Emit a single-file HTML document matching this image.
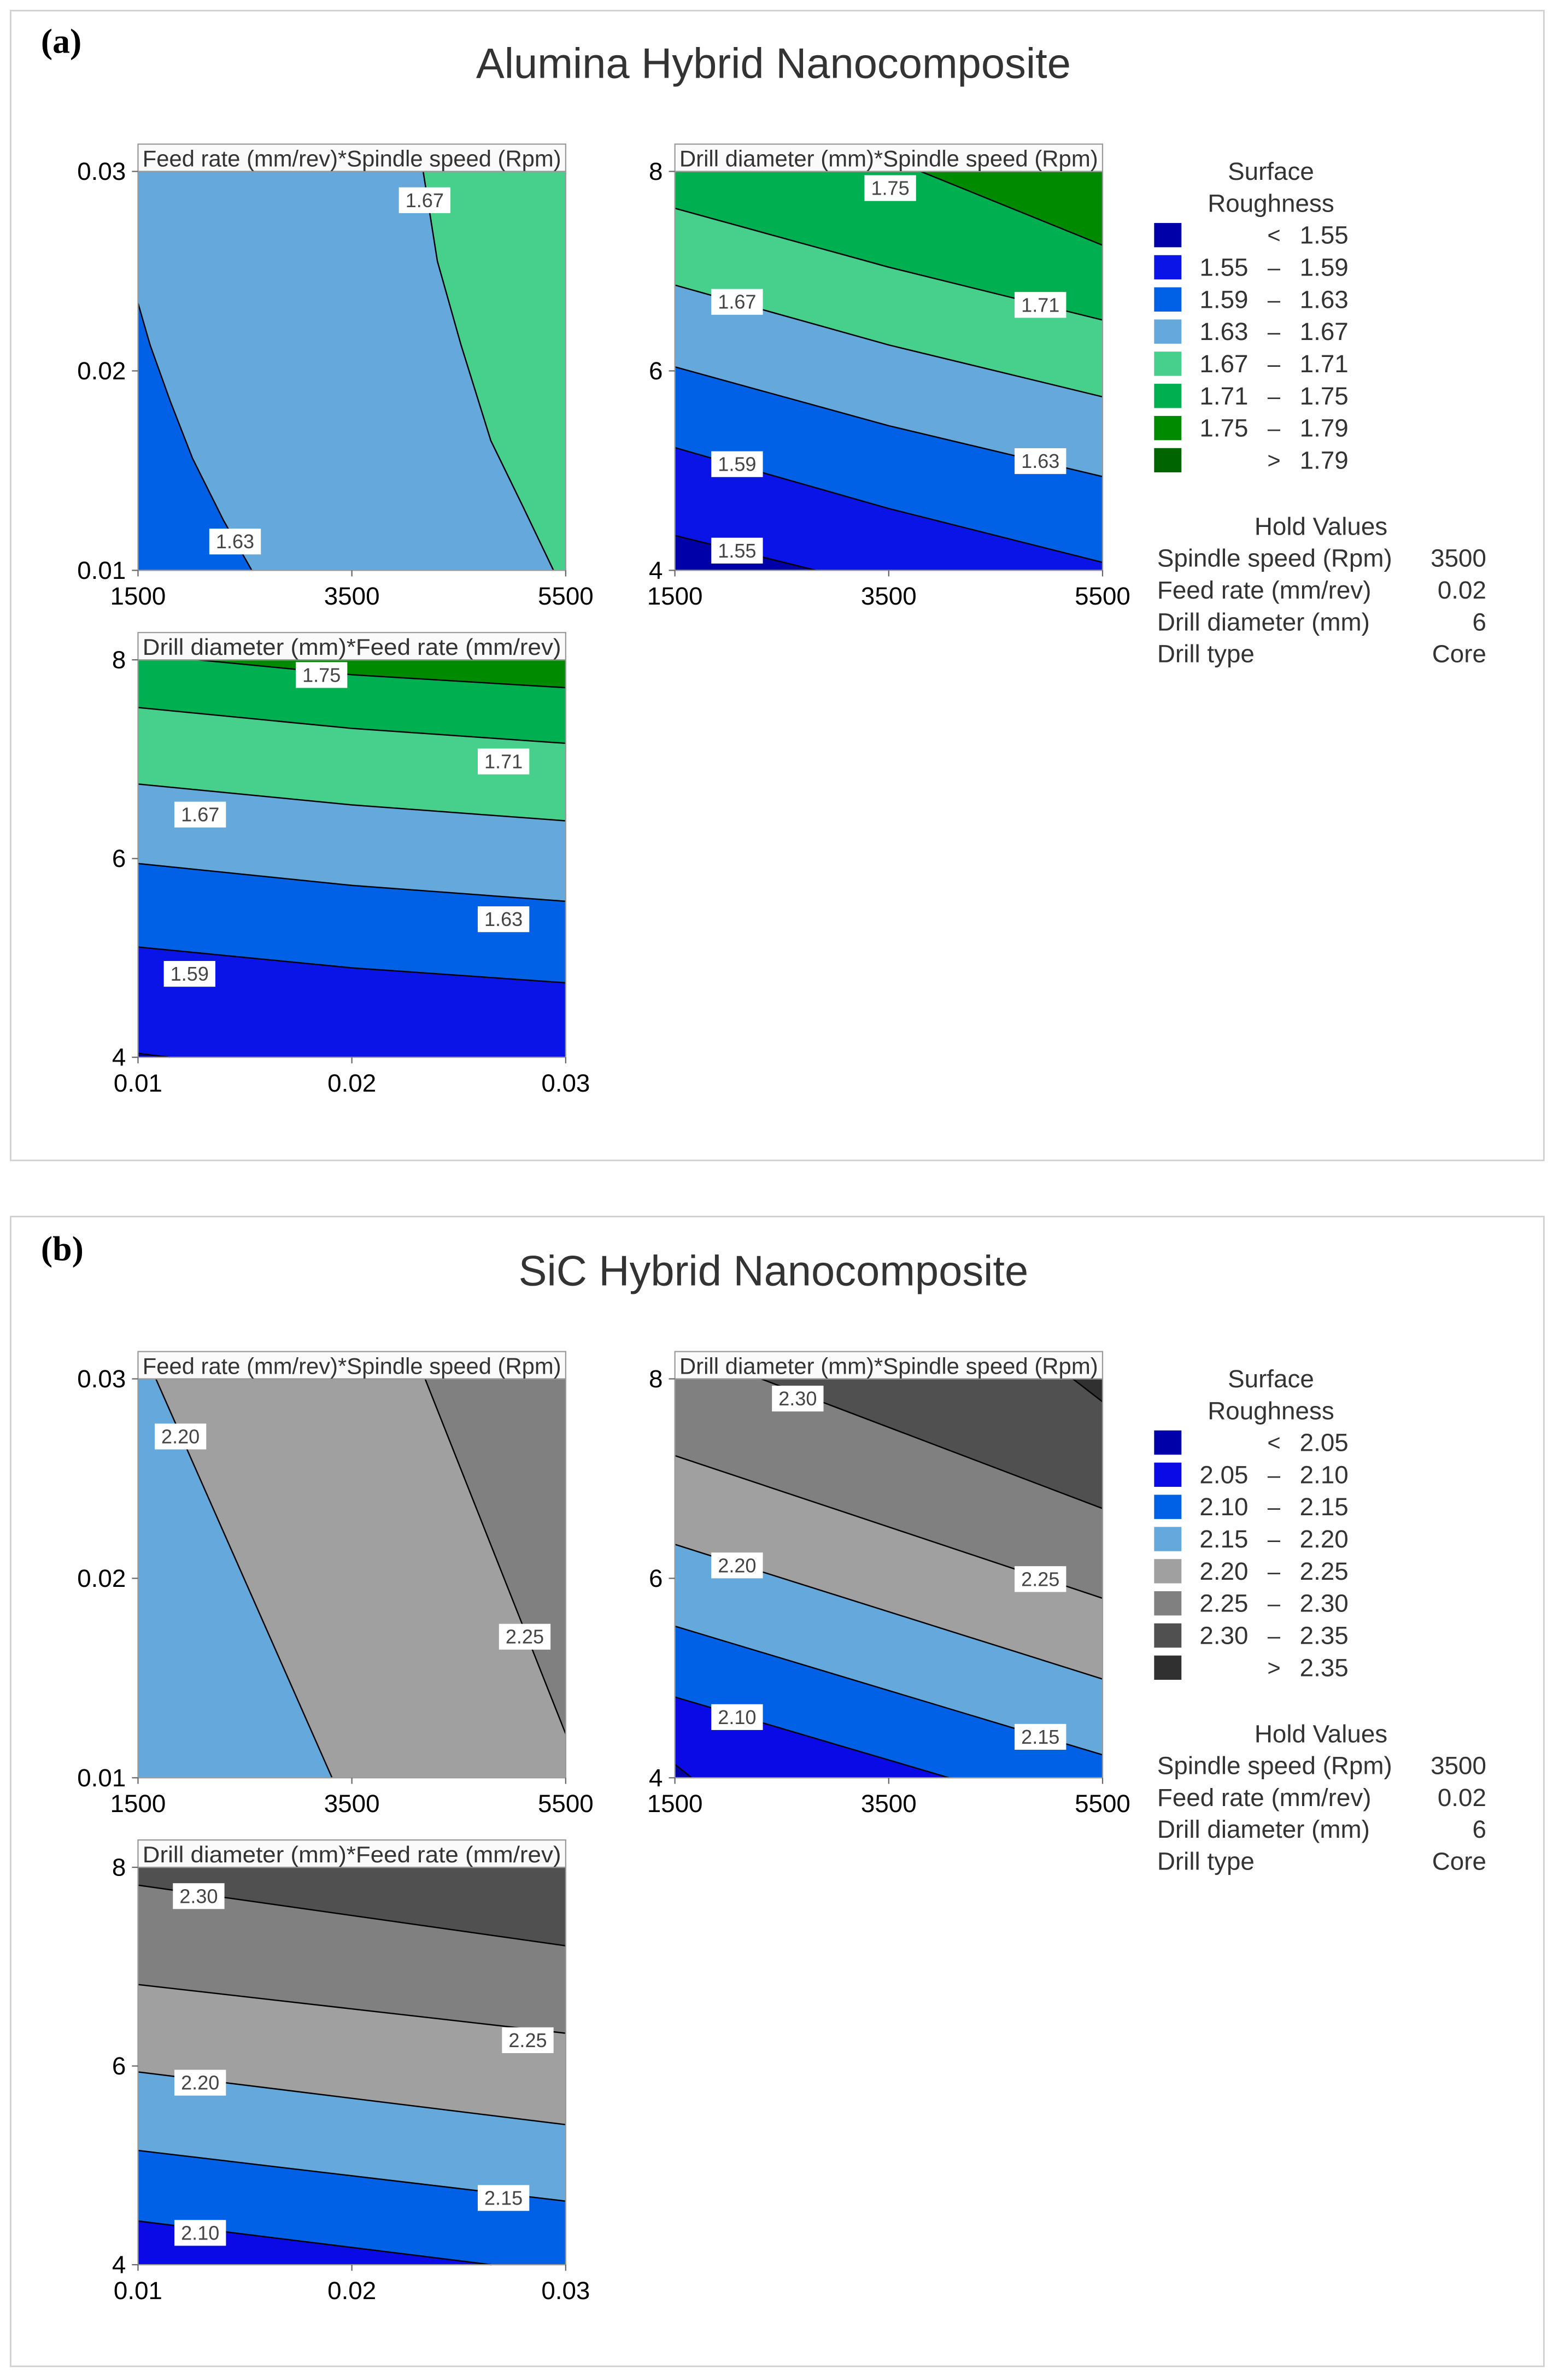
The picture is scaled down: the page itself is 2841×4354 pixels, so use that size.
<!DOCTYPE html>
<html><head><meta charset="utf-8">
<style>
html,body{margin:0;padding:0;background:#fff;}
svg{display:block;}
</style></head>
<body>
<svg id="fig" xmlns="http://www.w3.org/2000/svg" width="2841" height="4354" viewBox="0 0 1024 1569" preserveAspectRatio="none"></svg>
<script>
// ---- data ----
const aThresholds=[1.55,1.59,1.63,1.67,1.71,1.75,1.79];
const aColors=["#0000a8","#0a14e6","#0060e6","#65a9dc","#47cf8c","#00b050","#008a00","#006400"];
const bThresholds=[2.05,2.10,2.15,2.20,2.25,2.30,2.35];
const bColors=["#0000a8","#0a0ae6","#0060e6","#65a9dc","#a0a0a0","#808080","#505050","#303030"];
const speedTicks=[1500,3500,5500];
const feedTicks=[0.01,0.02,0.03];
const diamTicks=[4,6,8];
const speedTickLabels=["1500","3500","5500"];
const feedTickLabels=["0.01","0.02","0.03"];
const diamTickLabels=["4","6","8"];
// panel a
const a1Levels=[1.63,1.67];
const a1Lines=[[[1500,0.0234],[1613,0.0213],[1800,0.0185],[2011,0.0156],[2300,0.0125],[2564,0.01]],[[4167,0.03],[4300,0.0255],[4521,0.0213],[4800,0.0165],[5100,0.0132],[5386,0.01]]];
const a2Levels=[1.55,1.59,1.63,1.67,1.71,1.75];
const a2Lines=[[[1500,4.35],[2820,4]],[[1500,5.23],[3500,4.62],[5500,4.08]],[[1500,6.04],[3500,5.45],[5500,4.94]],[[1500,6.86],[3500,6.26],[5500,5.74]],[[1500,7.63],[3500,7.04],[5500,6.51]],[[3798,8],[5500,7.26]]];
const a3Levels=[1.55,1.59,1.63,1.67,1.71,1.75];
const a3Lines=[[[0.01,4.04],[0.0115,4]],[[0.01,5.11],[0.02,4.90],[0.03,4.75]],[[0.01,5.95],[0.02,5.73],[0.03,5.57]],[[0.01,6.75],[0.02,6.54],[0.03,6.38]],[[0.01,7.52],[0.02,7.31],[0.03,7.16]],[[0.0128,8],[0.02,7.85],[0.03,7.72]]];
// panel b
const b1Levels=[2.20,2.25];
const b1Lines=[[[1667,0.03],[3315,0.01]],[[4185,0.03],[5500,0.0122]]];
const b2Levels=[2.05,2.10,2.15,2.20,2.25,2.30,2.35];
const b2Lines=[[[1500,4.135],[1657,4]],[[1500,4.81],[4065,4]],[[1500,5.52],[5500,4.23]],[[1500,6.34],[5500,4.99]],[[1500,7.23],[5500,5.80]],[[2306,8],[5500,6.70]],[[5222,8],[5500,7.77]]];
const b3Levels=[2.10,2.15,2.20,2.25,2.30];
const b3Lines=[[[0.01,4.44],[0.02653,4]],[[0.01,5.15],[0.03,4.64]],[[0.01,5.94],[0.03,5.41]],[[0.01,6.82],[0.03,6.33]],[[0.01,7.82],[0.03,7.21]]];

const NS="http://www.w3.org/2000/svg";
const SANS='"Liberation Sans",sans-serif';
const svg=document.getElementById('fig');
function el(tag,attrs,parent){const e=document.createElementNS(NS,tag);for(const k in attrs)e.setAttribute(k,attrs[k]);(parent||svg).appendChild(e);return e;}
function txt(s,x,y,size,anchor,parent,extra){const t=el('text',Object.assign({x:x,y:y,'font-size':size,'font-family':SANS,'text-anchor':anchor||'start',fill:'#333','dominant-baseline':'central'},extra||{}),parent);t.textContent=s;return t;}

function perim(p,r){const e=0.01;const w=r.x1-r.x0,h=r.y1-r.y0;
 if(Math.abs(p[1]-r.y0)<e)return (p[0]-r.x0)/w;
 if(Math.abs(p[0]-r.x1)<e)return 1+(p[1]-r.y0)/h;
 if(Math.abs(p[1]-r.y1)<e)return 2+(r.x1-p[0])/w;
 return 3+(r.y1-p[1])/h;}
function corner(c,r){c=((c%4)+4)%4;return [[r.x0,r.y0],[r.x1,r.y0],[r.x1,r.y1],[r.x0,r.y1]][c];}

function drawPlot(cfg){
 const g=el('g',{});
 
 
 const r={x0:cfg.x0,y0:cfg.y0,x1:cfg.x1,y1:cfg.y1};
 const sx=v=>cfg.x0+(v-cfg.xd[0])/(cfg.xd[1]-cfg.xd[0])*(cfg.x1-cfg.x0);
 const sy=v=>cfg.y1-(v-cfg.yd[0])/(cfg.yd[1]-cfg.yd[0])*(cfg.y1-cfg.y0);
 const th=cfg.thr,cols=cfg.cols;
 const idx=L=>th.findIndex(t=>Math.abs(t-L)<1e-6);
 const bg=el('rect',{x:r.x0,y:r.y0,width:r.x1-r.x0,height:r.y1-r.y0,fill:cols[idx(cfg.levels[0])]},g);
 
 
 const paths=[];
 cfg.levels.forEach((L,i)=>{
  const pts=cfg.lines[i].map(p=>[sx(p[0]),sy(p[1])]);
  const S=pts[0],E=pts[pts.length-1];
  const tS=perim(S,r),tE=perim(E,r);
  let tSf=tS>tE?tS:tS+4;let fwd=[];
  for(let c=Math.ceil(tE+1e-9);c<tSf;c++)fwd.push(c);
  let poly=pts.slice();
  if(fwd.some(c=>c%4===1)){fwd.forEach(c=>poly.push(corner(c,r)));}
  else{let tSb=tS<tE?tS:tS-4;for(let c=Math.floor(tE-1e-9);c>tSb;c--)poly.push(corner(c,r));}
  const band=el('polygon',{points:poly.map(p=>p.join(',')).join(' '),fill:cols[idx(L)+1]},g);
  
  
  paths.push(pts);
 });
 paths.forEach((pts,i)=>{
  const ln=el('polyline',{points:pts.map(p=>p.join(',')).join(' '),fill:'none',stroke:'#000','stroke-width':0.9,'stroke-linejoin':'round'},g);
  
  
 });
 const fr=el('rect',{x:r.x0,y:r.y0,width:r.x1-r.x0,height:r.y1-r.y0,fill:'none',stroke:'#9a9a9a','stroke-width':0.8},g);
 
 
 const hd=el('rect',{x:r.x0,y:r.y0-18,width:r.x1-r.x0,height:18,fill:'#fafafa',stroke:'#9a9a9a','stroke-width':0.8},g);
 
 
 const ht=txt(cfg.title,r.x0+3,r.y0-8.5,15,'start',g,{textLength:r.x1-r.x0-6,lengthAdjust:'spacingAndGlyphs'});
 
 
 cfg.xt.forEach((v,i)=>{
  el('line',{x1:sx(v),x2:sx(v),y1:r.y1,y2:r.y1+4,stroke:'#666','stroke-width':0.8},g);
  const t=txt(cfg.xtl[i],sx(v),r.y1+17,16.5,'middle',g,{fill:'#000'});
  
  
 });
 cfg.yt.forEach((v,i)=>{
  el('line',{x1:r.x0-4,x2:r.x0,y1:sy(v),y2:sy(v),stroke:'#666','stroke-width':0.8},g);
  const t=txt(cfg.ytl[i],r.x0-8,sy(v),16.5,'end',g,{fill:'#000'});
  
  
 });
 cfg.labels.forEach(l=>{
  const lb=el('rect',{x:l[1]-17,y:l[2]-8.5,width:34,height:17,fill:'#fff'},g);
  
  
  const t=txt(l[0],l[1],l[2],13,'middle',g,{fill:'#444'});
  
  
 });
}

function drawPanel(off,letter,title,thr,cols,p1,p2,p3){
 const fr=el('rect',{x:7,y:7+off+(off?-1:0),width:1011,height:758,fill:'none',stroke:'#d0d0d0','stroke-width':1});
 
 
 const lt=txt('('+letter+')',27,27+off,23,'start',svg,{'font-family':'"Liberation Serif",serif','font-weight':'bold',fill:'#000'});
 
 
 const tt=txt(title,510,42+off,28,'middle',svg);
 
 
 drawPlot(Object.assign({x0:91,x1:373,y0:113+off,y1:376+off,xd:[1500,5500],yd:[0.01,0.03],xt:speedTicks,xtl:speedTickLabels,yt:feedTicks,ytl:feedTickLabels,title:'Feed rate (mm/rev)*Spindle speed (Rpm)',thr:thr,cols:cols,name:'plot-feed-vs-speed'},p1));
 drawPlot(Object.assign({x0:445,x1:727,y0:113+off,y1:376+off,xd:[1500,5500],yd:[4,8],xt:speedTicks,xtl:speedTickLabels,yt:diamTicks,ytl:diamTickLabels,title:'Drill diameter (mm)*Spindle speed (Rpm)',thr:thr,cols:cols,name:'plot-diameter-vs-speed'},p2));
 drawPlot(Object.assign({x0:91,x1:373,y0:435+off,y1:697+off,xd:[0.01,0.03],yd:[4,8],xt:feedTicks,xtl:feedTickLabels,yt:diamTicks,ytl:diamTickLabels,title:'Drill diameter (mm)*Feed rate (mm/rev)',thr:thr,cols:cols,name:'plot-diameter-vs-feed'},p3));
 let t=txt('Surface',838,113+off,16.5,'middle');
 t=txt('Roughness',838,134+off,16.5,'middle');
 cols.forEach((c,i)=>{
  const y=155+off+i*21.2;
  const sw=el('rect',{x:761,y:y-8,width:18,height:16,fill:c});
  
  
  let a,b,m;
  if(i===0){m='<';b=thr[0].toFixed(2);a='';}
  else if(i===cols.length-1){m='>';b=thr[thr.length-1].toFixed(2);a='';}
  else{a=thr[i-1].toFixed(2);b=thr[i].toFixed(2);m='–';}
  if(a){const ta=txt(a,807,y,16.5,'middle');}
  const tm=txt(m,840,y,15,'middle');
  const tb=txt(b,857,y,16.5,'start');
 });
 t=txt('Hold Values',871,347+off,16.5,'middle');
 [['Spindle speed (Rpm)','3500'],['Feed rate (mm/rev)','0.02'],['Drill diameter (mm)','6'],['Drill type','Core']].forEach((h,i)=>{
  const y=368+off+i*21;
  const a=txt(h[0],763,y,16.5,'start');
  const b=txt(h[1],980,y,16.5,'end');
 });
}

drawPanel(0,'a','Alumina Hybrid Nanocomposite',aThresholds,aColors,
 {levels:a1Levels,lines:a1Lines,labels:[['1.67',280,132],['1.63',155,357]]},
 {levels:a2Levels,lines:a2Lines,labels:[['1.75',587,124],['1.67',486,199],['1.71',686,201],['1.59',486,306],['1.63',686,304],['1.55',486,363]]},
 {levels:a3Levels,lines:a3Lines,labels:[['1.75',212,445],['1.71',332,502],['1.67',132,537],['1.63',332,606],['1.59',125,642]]});
drawPanel(796,'b','SiC Hybrid Nanocomposite',bThresholds,bColors,
 {levels:b1Levels,lines:b1Lines,labels:[['2.20',119,947],['2.25',346,1079]]},
 {levels:b2Levels,lines:b2Lines,labels:[['2.30',526,922],['2.20',486,1032],['2.25',686,1041],['2.10',486,1132],['2.15',686,1145]]},
 {levels:b3Levels,lines:b3Lines,labels:[['2.30',131,1250],['2.25',348,1345],['2.20',132,1373],['2.15',332,1449],['2.10',132,1472]]});
</script>
</body></html>
